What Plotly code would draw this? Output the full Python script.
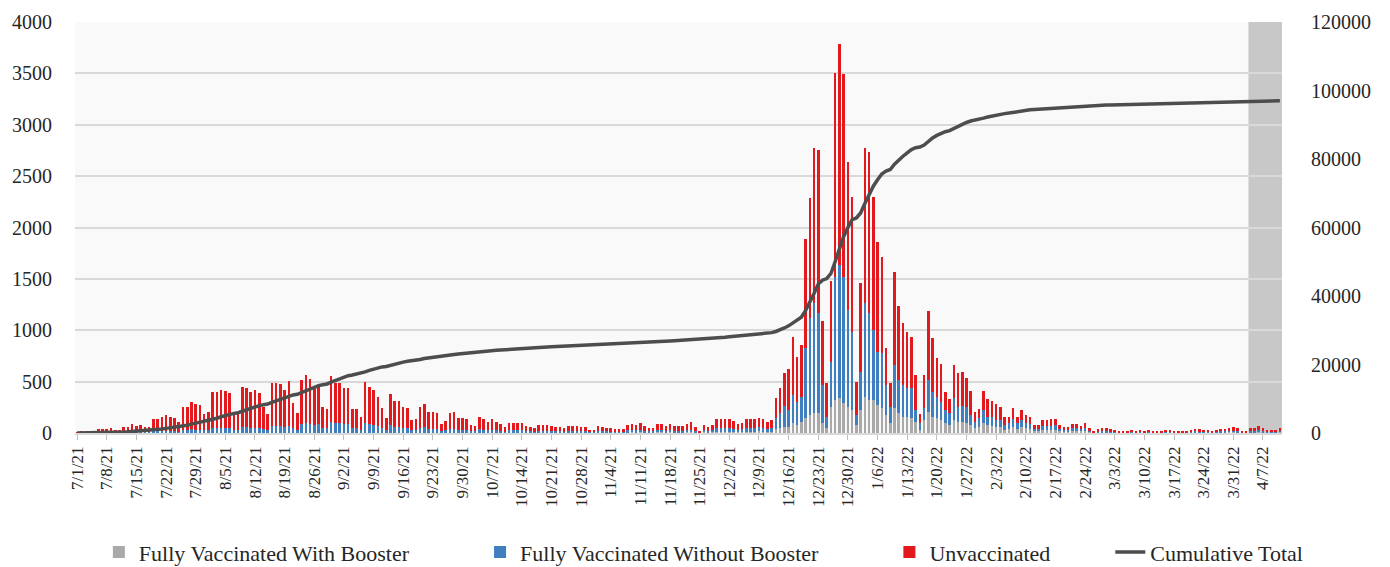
import pandas as pd
import numpy as np
import plotly.graph_objects as go

start_date = "2021-07-01"
n_days = 285
dates = pd.date_range(start_date, periods=n_days, freq="D")

with_booster = [
    0,0,0,0,0, 0,0,0,0,0,0,0,0,0,0, 0,0,0,0,0,0,0,0,0,0, 0,0,0,0,0,0,0,0,0,0,
    0,0,0,0,0,0,0,0,0,0, 0,0,0,0,0,0,0,0,0,0, 0,0,
    0,0,0,0,0,0,0,0,0,0, 0,0,0,0,0,0,0,0,0,0,
    0,0,0,0,0,0,2,2,2,1, 2,3,3,2,2,3,2,2,4,3, 3,4,3,3,2,4,4,4,4,3,
    3,2,4,4,4,4,3,3,3,4, 4,4,4,4,2,2,5,4,4,3, 3,3,3,6,6,6,7,5,4,4,
    7,7,6,7,6,6,6,7,8,5, 1,7,6,7,12,12,12,12,10,8, 10,13,13,14,15,14,12,14,35,45,55,
    62,94,78,110,143,175,192,192,94,45, 256,321,337,289,256,224,78,224,354,321,
    321,272,240,175,94,240,192,159,159,143, 110,29,127,208,159,143,127,94,78,127,
    110,110,94,78,45,62,94,78,68,62, 62,29,36,62,36,
    55,44,38,20,20,32,32,33,34,20,15,15,21,21,17,23,11,3,
    7,9,9,7,6,3,2,4,6,4, 6,4,6,3,2,4,5,6,4,3, 4,4,6,8,7,5,6,3,6,8,
    8,10,11,9,4,4,9,9,14,9, 6,6,6,10,
]

without_booster = [
    0,1,1,2,2, 5,5,5,6,4,4,7,8,10,9, 10,7,7,16,18,20,22,20,18,14,
    30,30,35,34,33,25,27,45,45,48, 50,48,28,28,55,55,50,52,50,35,
    30,65,65,64,58,70,45,32,85,95, 90,80,
    85,50,45,105,95,95,85,85,45,45, 30,95,85,80,70,48,30,75,62,60,
    50,48,26,27,50,55,40,40,40,18, 24,38,40,29,29,28,16,14,32,28,
    24,29,24,20,12,22,22,22,21,15, 13,10,18,18,18,16,13,13,10,17,
    17,16,15,15,7,7,16,13,12,11, 9,9,10,19,20,19,23,17,11,13,
    21,22,17,22,17,17,17,22,26,15, 3,20,16,20,35,34,35,35,30,22,
    27,36,36,37,39,36,30,35,110,150,210,
    162,276,227,244,681,941,1070,973,373,114, 438,1200,1298,1232,941,762,97,373,908,844,
    682,520,536,292,162,422,324,308,276,292, 114,65,113,308,243,211,178,130,114,210,
    146,153,162,97,65,81,130,81,91,65, 65,49,58,71,58,
    70,52,46,23,23,38,38,40,41,23,19,19,25,25,20,28,13,3,
    7,9,9,7,6,3,2,4,6,4, 6,4,6,3,2,4,5,6,4,3, 4,4,6,8,7,5,6,3,6,8,
    8,10,11,9,4,4,9,9,14,9, 6,6,6,10,
]

unvaccinated = [
    5,9,7,10,13, 31,31,31,39,26,26,48,54,75,63, 72,48,48,120,122,140,158,140,132,96,
    226,226,265,251,242,162,177,350,350,367, 362,342,159,159,393,387,350,363,340,221,
    157,422,422,416,364,436,247,162,434,466, 439,370,
    365,206,189,450,395,395,356,350,186,186, 123,399,366,339,284,192,113,305,253,251,
    206,192,101,106,200,224,159,159,156,69, 91,150,158,112,112,105,60,52,117,105,
    83,100,83,65,41,75,75,75,69,50, 39,33,56,56,56,48,39,39,32,50,
    50,48,43,43,20,20,47,38,36,31, 24,24,26,53,58,53,64,46,30,35,
    56,59,45,59,45,45,45,59,70,42, 9,51,40,51,89,87,89,89,77,54,
    64,84,84,85,89,83,68,78,192,246,322,
    396,561,439,503,1061,1168,1508,1590,626,331, 788,1986,2151,1973,1437,1314,318,860,1508,1573,
    1297,1070,934,357,228,908,720,606,552,503, 340,91,324,674,519,373,363,178,136,325,
    325,334,282,234,91,91,188,169,155,152, 129,75,65,107,65,
    99,79,69,35,35,57,57,60,61,35,28,28,38,38,31,43,21,7,
    22,27,27,22,17,7,6,12,17,12, 17,12,17,7,6,12,13,17,12,7, 12,12,17,26,22,13,17,7,17,26,
    26,29,33,27,12,12,27,27,40,27, 17,17,17,32,
]

assert len(with_booster) == n_days, len(with_booster)
assert len(without_booster) == n_days, len(without_booster)
assert len(unvaccinated) == n_days, len(unvaccinated)

cumulative_total = np.cumsum(np.array(with_booster) + np.array(without_booster) + np.array(unvaccinated))

shade_start = "2022-04-03 14:00"

FONT = "Liberation Serif, DejaVu Serif, serif"
NB = "\u00a0"
fig = go.Figure()
fig.add_trace(go.Bar(x=dates, y=with_booster, name="Fully Vaccinated With Booster" + NB * 12,
                     marker=dict(color="#A9A9A9", line=dict(width=0))))
fig.add_trace(go.Bar(x=dates, y=without_booster, name="Fully Vaccinated Without Booster" + NB * 12,
                     marker=dict(color="#3F7FC0", line=dict(width=0))))
fig.add_trace(go.Bar(x=dates, y=unvaccinated, name="Unvaccinated" + NB * 10,
                     marker=dict(color="#E3191E", line=dict(width=0))))
fig.add_trace(go.Scatter(x=dates, y=cumulative_total, name="Cumulative Total", yaxis="y2",
                         mode="lines", line=dict(color="#4D4D4D", width=3.5)))

fig.add_shape(type="rect", xref="x", yref="paper", x0=shade_start, x1="2022-04-11 12:00",
              y0=0, y1=1, fillcolor="rgba(140,140,140,0.45)", line=dict(width=0), layer="below")

fig.update_layout(
    width=1390, height=567,
    margin=dict(l=67, r=116, t=14, b=142),
    barmode="stack", bargap=0.4,
    paper_bgcolor="white", plot_bgcolor="#F9F9F9",
    font=dict(family=FONT, color="#262626"),
    showlegend=True,
    legend=dict(orientation="h", xref="paper", yref="container",
                x=0.521, xanchor="center", y=0.04, yanchor="middle",
                font=dict(size=22, family=FONT, color="#262626"), traceorder="normal"),
    xaxis=dict(type="date", range=["2021-06-30 12:00", "2022-04-11 12:00"],
               tickmode="linear", tick0=start_date, dtick=7 * 86400000,
               tickformat="%-m/%-d/%y", tickangle=-90, tickfont=dict(size=17, family=FONT),
               showgrid=False, showline=True, linecolor="#D9D9D9", linewidth=1.5,
               ticks="outside", ticklen=5, tickcolor="#BFBFBF", zeroline=False, automargin=False),
    yaxis=dict(range=[0, 4000], dtick=500, showgrid=True, gridcolor="#D9D9D9", gridwidth=1.5,
               tickfont=dict(size=20, family=FONT), zeroline=False, showline=False, ticks="",
               ticklabelstandoff=22, automargin=False),
    yaxis2=dict(range=[0, 120000], dtick=20000, overlaying="y", side="right", showgrid=False,
                tickformat="d", tickfont=dict(size=20, family=FONT), zeroline=False,
                showline=False, ticks="", ticklabelstandoff=28, automargin=False),
)

fig.write_html("out.html")
